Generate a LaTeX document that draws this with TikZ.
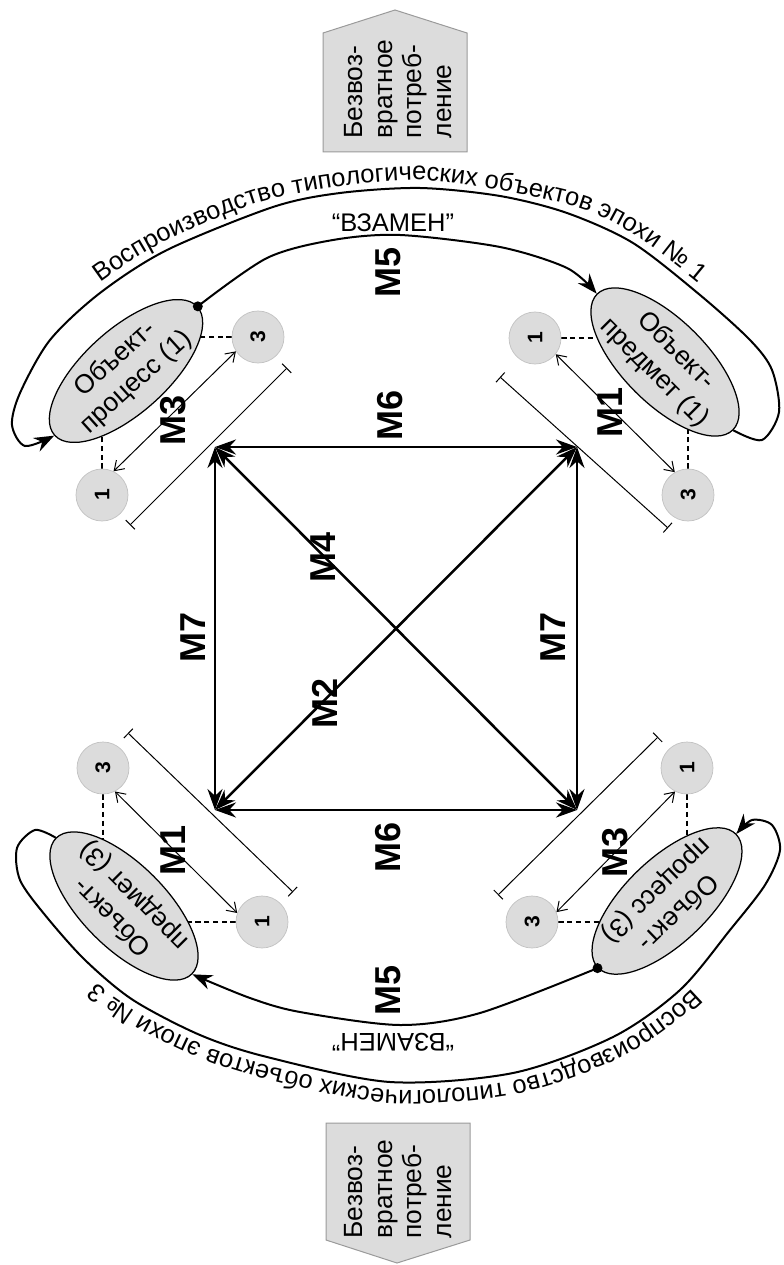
\documentclass[tikz,border=0pt]{standalone}
\usepackage{fontspec}
\setmainfont{Liberation Sans}
\usepackage{graphicx}
\usepackage{xcolor}
\usepackage{tikz}
\usetikzlibrary{arrows.meta,shapes.geometric,decorations.text,backgrounds}
\definecolor{fillgray}{HTML}{DCDCDC}
\definecolor{rimgray}{HTML}{9A9A9A}
\newcommand{\curvefont}{\fontsize{14.5}{17}\selectfont}

\begin{document}
\begin{tikzpicture}[x=0.2mm, y=-0.2mm,
        objnode/.style={ellipse, draw, line width=0.25mm, fill=fillgray, minimum width=38.4mm, minimum height=16.8mm, inner xsep=-1mm, inner ysep=0pt, align=center, font=\fontsize{15}{17.5}\selectfont},
        tag/.style={circle, fill=fillgray, draw=rimgray!60, minimum size=10.4mm, inner sep=0pt, font=\fontsize{12}{12}\selectfont\bfseries},
        mlabel/.style={rotate=90, inner sep=0pt, font=\fontsize{20.5}{24}\selectfont\bfseries},
        mainarrow/.style={line width=0.5mm, {Stealth[length=4.2mm,width=3mm]}-{Stealth[length=4.2mm,width=3mm]}},
        flow/.style={line width=0.4mm, -{Stealth[length=4mm,width=3mm]}},
        fine/.style={line width=0.2mm, {Straight Barb[length=1.8mm,width=2.4mm]}-{Straight Barb[length=1.8mm,width=2.4mm]}},
        gauge/.style={line width=0.2mm, {Bar[width=2.6mm]}-{Bar[width=2.6mm]}},
        tie/.style={densely dashed, line width=0.25mm},
        lossbox/.style={fill=fillgray, draw=rimgray, line width=0.2mm}]
    \useasboundingbox (0,0) rectangle (783,1265);
    \draw[lossbox] (323,152) -- (323,33) -- (395,10) -- (467,33) -- (467,152) -- cycle;
    \draw[lossbox] (326,1123) -- (470,1123) -- (470,1240) -- (397,1263) -- (326,1240) -- cycle;
    \node[rotate=90, align=left, font=\fontsize{15}{17}\selectfont] (lossT) at (398,89) {Безвоз-\\вратное\\потреб-\\ление};
    \node[rotate=90, align=left, font=\fontsize{15}{17}\selectfont] (lossB) at (398,1189) {Безвоз-\\вратное\\потреб-\\ление};

    \node[objnode, rotate=42] (proc1) at (126,371) {Объект-\\процесс (1)};
    \node[objnode, rotate=-45] (subj1) at (665,362) {Объект-\\предмет (1)};
    \node[objnode, rotate=135] (subj3) at (124,906) {Объект-\\предмет (3)};
    \node[objnode, rotate=224] (proc3) at (667,901) {Объект-\\процесс (3)};
    \foreach \n/\p/\d in {a3/{258,337}/3, a1/{102,495}/1, b1/{535,338}/1, b3/{688,495}/3, c3/{103,768}/3, c1/{262,922}/1, d1/{687,768}/1, d3/{532,922}/3}
        \node[tag] (\n) at (\p) {\rotatebox{90}{\d}};
    \begin{scope}[on background layer]
        \draw[tie] (a3) -- (a3 -| proc1); \draw[tie] (a1) -- (a1 |- proc1);
        \draw[tie] (b1) -- (b1 -| subj1); \draw[tie] (b3) -- (b3 |- subj1);
        \draw[tie] (c3) -- (c3 |- subj3); \draw[tie] (c1) -- (c1 -| subj3);
        \draw[tie] (d1) -- (d1 |- proc3); \draw[tie] (d3) -- (d3 -| proc3);
    \end{scope}

    \coordinate (tl) at (215,447); \coordinate (tr) at (577,447);
    \coordinate (bl) at (215,810); \coordinate (br) at (577,810);
    \foreach \a/\b in {tl/tr, bl/br, tl/bl, tr/br, tl/br, bl/tr}
        \draw[mainarrow] (\a) -- (\b);

    \coordinate (ga) at (130,525); \coordinate (gb) at (287,368);
    \coordinate (gc) at (500,377); \coordinate (gd) at (668,528);
    \coordinate (ge) at (128,733); \coordinate (gf) at (293,892);
    \coordinate (gg) at (658,737); \coordinate (gh) at (498,895);
    \foreach \a/\b in {ga/gb, gc/gd, ge/gf, gg/gh}
        \draw[gauge] (\a) -- (\b);

    \draw[fine] (a1.64) -- (a3.213);
    \draw[fine] (b1.322) -- (b3.120);
    \draw[fine] (c3.297) -- (c1.160);
    \draw[fine] (d1.243) -- (d3.22);

    \draw[flow] plot[smooth] coordinates {(proc1.east) (267,258) (333,240) (400,235) (500,247) (567,268) (subj1.west)};
    \draw[flow] plot[smooth] coordinates {(subj1.east) (762,440) (779,412) (772,370) (750,340) (700,295) (633,243) (567,213) (500,196) (420,188) (340,193) (273,207) (167,250) (100,293) (50,340) (20,393) (12,425) (25,446) (proc1.west)};
    \draw[flow] plot[smooth] coordinates {(proc3.east) (480,1013) (400,1025) (300,1012) (250,998) (subj3.west)};
    \draw[flow] plot[smooth] coordinates {(subj3.east) (35,830) (17,848) (20,880) (45,915) (85,960) (133,1000) (200,1035) (267,1057) (390,1082) (513,1073) (613,1037) (680,990) (730,930) (765,885) (780,850) (772,825) (752,820) (proc3.west)};
    \fill (proc1.east) circle (1mm);
    \fill (proc3.east) circle (1mm);

    \path[decorate, decoration={text along path, text align=center, text={|\curvefont|Воспроизводство типологических объектов эпохи № 1}}]
        plot[smooth] coordinates {(44,334) (94,287) (163,243) (271,199) (420,180) (569,205) (637,236) (706,289) (756,334)};
    \path[decorate, decoration={text along path, text align=center, text={|\curvefont|Воспроизводство типологических объектов эпохи № 3}}]
        plot[smooth] coordinates {(750,925) (685,996) (616,1045) (514,1081) (390,1090) (265,1065) (196,1042) (127,1006) (79,966) (40,918)};
    \node[font=\curvefont] (swapT) at (393,223) {“ВЗАМЕН”};
    \node[font=\curvefont, rotate=180] (swapB) at (393,1042) {“ВЗАМЕН”};

    \foreach \n/\p/\t in {m6t/{390,415}/M6, m6b/{388,847}/M6, m7l/{193,637}/M7, m7r/{553,637}/M7, m4/{323,557}/M4, m2/{325,703}/M2, m5t/{388,272}/M5, m5b/{388,990}/M5, m3t/{173,420}/M3, m1t/{610,412}/M1, m1b/{173,850}/M1, m3b/{615,852}/M3}
        \node[mlabel] (\n) at (\p) {\t};
\end{tikzpicture}
\end{document}
